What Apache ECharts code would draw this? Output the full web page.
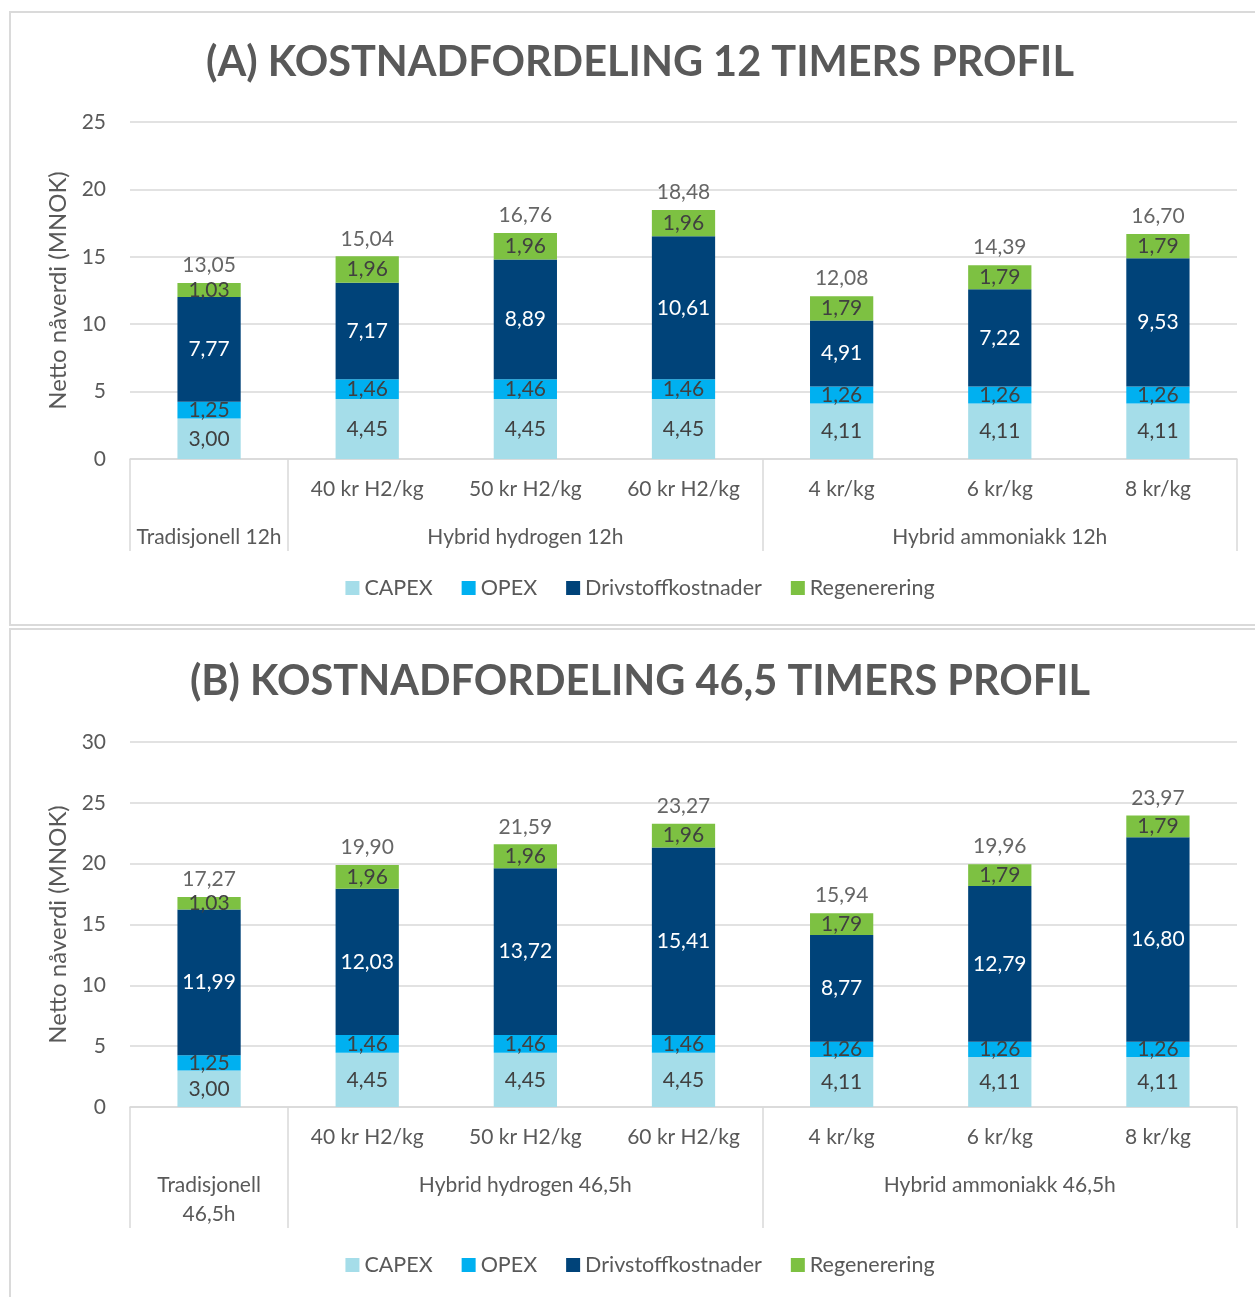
<!DOCTYPE html>
<html><head><meta charset="utf-8">
<script src="https://cdn.jsdelivr.net/npm/echarts@6/dist/echarts.min.js"></script>
<style>
body{margin:0;background:#fff;width:1255px;height:1297px;overflow:hidden;position:relative}
.box{position:absolute;left:9px;width:1258px;border:2px solid #dadada;background:#fff;box-sizing:content-box}
#a{top:11px;height:611px}
#b{top:628px;height:700px}
</style></head>
<body>
<div id="a" class="box"></div><div id="b" class="box"></div>
<script>
var categories = ['', '40 kr H2/kg', '50 kr H2/kg', '60 kr H2/kg', '4 kr/kg', '6 kr/kg', '8 kr/kg'];
var groupsA = ['Tradisjonell 12h', '', 'Hybrid hydrogen 12h', '', '', 'Hybrid ammoniakk 12h', ''];
var groupsB = ['Tradisjonell\n46,5h', '', 'Hybrid hydrogen 46,5h', '', '', 'Hybrid ammoniakk 46,5h', ''];
var seriesNames = ['CAPEX', 'OPEX', 'Drivstoffkostnader', 'Regenerering'];
var capex = [3.00, 4.45, 4.45, 4.45, 4.11, 4.11, 4.11];
var opex = [1.25, 1.46, 1.46, 1.46, 1.26, 1.26, 1.26];
var fuelA = [7.77, 7.17, 8.89, 10.61, 4.91, 7.22, 9.53];
var regen = [1.03, 1.96, 1.96, 1.96, 1.79, 1.79, 1.79];
var totalsA = [13.05, 15.04, 16.76, 18.48, 12.08, 14.39, 16.70];
var fuelB = [11.99, 12.03, 13.72, 15.41, 8.77, 12.79, 16.80];
var totalsB = [17.27, 19.90, 21.59, 23.27, 15.94, 19.96, 23.97];
var yTicksA = {min: 0, max: 25, interval: 5};
var yTicksB = {min: 0, max: 30, interval: 5};

var FONT = 'Lato';
var colors = ['#a5dde9', '#00b0f0', '#004379', '#7dc142'];
function fmt(v) { return v.toFixed(2).replace('.', ','); }

function makeOption(cfg) {
  var vals = [capex, opex, cfg.fuel, regen];
  var series = vals.map(function (d, i) {
    return {
      name: seriesNames[i], type: 'bar', stack: 'total', xAxisIndex: 0, yAxisIndex: 0,
      barWidth: '40%', data: d, itemStyle: {color: colors[i]},
      label: {show: true, position: 'inside', fontFamily: FONT, fontSize: 21,
        color: i === 2 ? '#ffffff' : '#404040',
        formatter: function (p) { return fmt(p.value); }},
      emphasis: {disabled: true}
    };
  });
  series.push({
    name: 'Sum', type: 'scatter', xAxisIndex: 0, yAxisIndex: 0, symbolSize: 0,
    data: cfg.totals, silent: true,
    label: {show: true, position: 'top', distance: 7, fontFamily: FONT, fontSize: 21, color: '#404040',
      formatter: function (p) { return fmt(p.value); }}
  });
  return {
    animation: false,
    textStyle: {fontFamily: FONT},
    title: {text: cfg.title, left: 'center', top: cfg.titleTop,
      textStyle: {fontFamily: FONT, fontWeight: 'bold', fontSize: cfg.titleSize, color: '#595959'}},
    legend: {data: seriesNames, left: 'center', top: cfg.legendTop, itemWidth: 14, itemHeight: 14, itemGap: 29,
      icon: 'rect', textStyle: {fontFamily: FONT, fontSize: 21.5, color: '#595959'}},
    grid: {left: 119, width: 1107, top: cfg.gridTop, height: cfg.gridH},
    xAxis: [{
      type: 'category', data: categories, position: 'bottom',
      axisLine: {lineStyle: {color: '#d9d9d9', width: 1.5}},
      axisTick: {show: false},
      axisLabel: {interval: 0, margin: 20, fontFamily: FONT, fontSize: 21, color: '#595959'}
    }, {
      type: 'category', data: cfg.groups, position: 'bottom', gridIndex: 0,
      axisLine: {show: false},
      axisTick: {show: true, length: cfg.sepLen, lineStyle: {color: '#d9d9d9', width: 1.5},
        interval: function (idx) { return idx === 0 || idx === 1 || idx === 4; }},
      axisLabel: {interval: 0, margin: 64, verticalAlign: 'top', lineHeight: 29,
        fontFamily: FONT, fontSize: 21, color: '#595959'}
    }],
    yAxis: {
      type: 'value', min: cfg.y.min, max: cfg.y.max, interval: cfg.y.interval,
      name: 'Netto nåverdi (MNOK)', nameLocation: 'middle', nameGap: 56, nameRotate: 90,
      nameTextStyle: {fontFamily: FONT, fontSize: 24, color: '#595959'},
      axisLine: {show: false}, axisTick: {show: false},
      axisLabel: {margin: 24, fontFamily: FONT, fontSize: 21, color: '#595959'},
      splitLine: {lineStyle: {color: '#d9d9d9', width: 1.5}}
    },
    series: series
  };
}

var chA = echarts.init(document.getElementById('a'));
chA.setOption(makeOption({title: '(A) KOSTNADFORDELING 12 TIMERS PROFIL', titleTop: 24, titleSize: 41.5, legendTop: 559,
  gridTop: 109, gridH: 337, fuel: fuelA, totals: totalsA, groups: groupsA, y: yTicksA, sepLen: 92}));
var chB = echarts.init(document.getElementById('b'));
chB.setOption(makeOption({title: '(B) KOSTNADFORDELING 46,5 TIMERS PROFIL', titleTop: 26, titleSize: 41.5, legendTop: 619,
  gridTop: 112, gridH: 365, fuel: fuelB, totals: totalsB, groups: groupsB, y: yTicksB, sepLen: 121}));
</script>
</body></html>
